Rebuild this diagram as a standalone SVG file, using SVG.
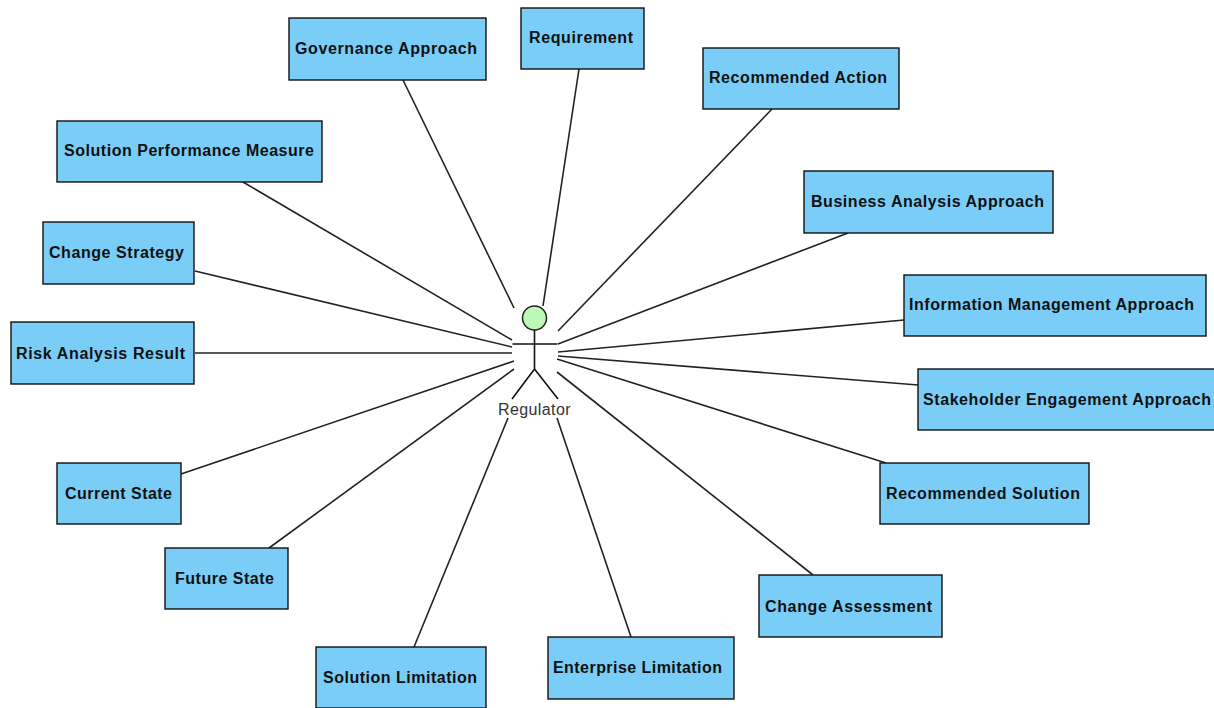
<svg xmlns="http://www.w3.org/2000/svg" width="1214" height="708" viewBox="0 0 1214 708">
<style>
.b{fill:#79cdf6;stroke:#111;stroke-width:1.4}
.t{font:bold 16px "Liberation Sans",Arial,sans-serif;fill:#111}
.c line{stroke:#222;stroke-width:1.6}
.a{stroke:#111;stroke-width:1.6;fill:none}
</style>
<rect width="1214" height="708" fill="#fff"/>
<g id="connectors" class="c">
<line x1="403" y1="80" x2="514" y2="308"/>
<line x1="579" y1="69" x2="543" y2="306"/>
<line x1="772" y1="109" x2="558" y2="331"/>
<line x1="848" y1="233" x2="558" y2="344"/>
<line x1="904" y1="320" x2="558" y2="352"/>
<line x1="918" y1="385" x2="558" y2="356"/>
<line x1="886" y1="463" x2="557" y2="359"/>
<line x1="813" y1="575" x2="557" y2="372"/>
<line x1="631" y1="637" x2="557" y2="418"/>
<line x1="414" y1="647" x2="508" y2="418"/>
<line x1="269" y1="548" x2="514" y2="369"/>
<line x1="181" y1="474" x2="514" y2="361"/>
<line x1="195" y1="353" x2="512" y2="353"/>
<line x1="195" y1="271" x2="512" y2="347"/>
<line x1="243" y1="182" x2="512" y2="340"/>
</g>
<g id="regulator">
<circle cx="534.500" cy="318" r="12" fill="#bcf8b6" stroke="#222" stroke-width="1.500"/>
<path class="a" d="M534.500 330V369M512.500 344H557.500M534.500 369L512 399M534.500 369L558 399"/>
<text x="534.500" y="415" text-anchor="middle" font-family="Liberation Sans, Arial, sans-serif" font-size="16" letter-spacing=".4" fill="#333">Regulator</text>
</g>
<g id="n1"><rect class="b" x="289" y="18" width="197" height="62"/><text class="t" x="295" y="54" textLength="182">Governance Approach</text></g>
<g id="n2"><rect class="b" x="521" y="8" width="123" height="61"/><text class="t" x="529" y="43" textLength="104">Requirement</text></g>
<g id="n3"><rect class="b" x="703" y="48" width="196" height="61"/><text class="t" x="709" y="83" textLength="178">Recommended Action</text></g>
<g id="n4"><rect class="b" x="804" y="171" width="249" height="62"/><text class="t" x="811" y="207" textLength="233">Business Analysis Approach</text></g>
<g id="n5"><rect class="b" x="904" y="275" width="302" height="61"/><text class="t" x="909" y="310" textLength="285">Information Management Approach</text></g>
<g id="n6"><rect class="b" x="918" y="369" width="297" height="61"/><text class="t" x="923" y="405" textLength="288">Stakeholder Engagement Approach</text></g>
<g id="n7"><rect class="b" x="880" y="463" width="209" height="61"/><text class="t" x="886" y="499" textLength="194">Recommended Solution</text></g>
<g id="n8"><rect class="b" x="759" y="575" width="183" height="62"/><text class="t" x="765" y="612" textLength="167">Change Assessment</text></g>
<g id="n9"><rect class="b" x="548" y="637" width="186" height="62"/><text class="t" x="553" y="673" textLength="169">Enterprise Limitation</text></g>
<g id="n10"><rect class="b" x="316" y="647" width="170" height="61"/><text class="t" x="323" y="683" textLength="154">Solution Limitation</text></g>
<g id="n11"><rect class="b" x="165" y="548" width="123" height="61"/><text class="t" x="175" y="584" textLength="99">Future State</text></g>
<g id="n12"><rect class="b" x="57" y="463" width="124" height="61"/><text class="t" x="65" y="499" textLength="107">Current State</text></g>
<g id="n13"><rect class="b" x="11" y="322" width="183" height="62"/><text class="t" x="16" y="359" textLength="169">Risk Analysis Result</text></g>
<g id="n14"><rect class="b" x="43" y="222" width="151" height="62"/><text class="t" x="49" y="258" textLength="135">Change Strategy</text></g>
<g id="n15"><rect class="b" x="57" y="121" width="265" height="61"/><text class="t" x="64" y="156" textLength="250">Solution Performance Measure</text></g>
</svg>
